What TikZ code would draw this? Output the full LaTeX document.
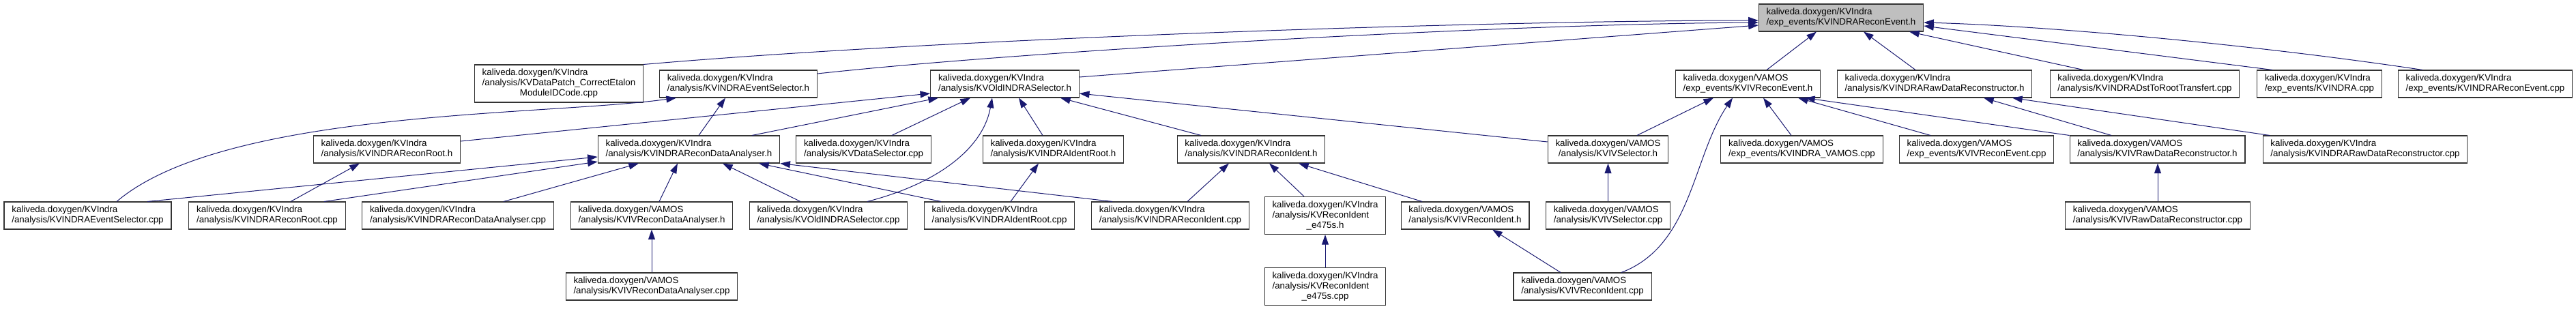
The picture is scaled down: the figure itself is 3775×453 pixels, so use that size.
\documentclass[tikz,border=0pt]{standalone}
\usepackage{fontspec}
\setmainfont{Liberation Sans}
\usetikzlibrary{arrows.meta}
\definecolor{edgeblue}{HTML}{191970}
% two and three line file labels: first lines left, last line centred
\newcommand{\fl}[2]{\begin{tabular}{@{}l@{}}#1\\\multicolumn{1}{@{}c@{}}{#2}\end{tabular}}
\newcommand{\flc}[3]{\begin{tabular}{@{}l@{}}#1\\#2\\\multicolumn{1}{@{}c@{}}{#3}\end{tabular}}
\tikzset{
  file/.style={draw=black!80, line width=0.8pt, fill=white, inner xsep=8.5pt, inner ysep=3.75pt,
    font=\fontsize{10}{11.25}\selectfont},
  rootfile/.style={file, fill=gray!50},
  dep/.style={draw=edgeblue, line width=0.75pt, -{Triangle[length=11pt,width=7.5pt]}}
}
\begin{document}
\begin{tikzpicture}[x=0.75pt,y=-0.75pt]
        \useasboundingbox (0,0) rectangle (3775,453);

        % 被包含的头文件
        \node[rootfile] (root) at (2698,26) {\fl{kaliveda.doxygen/KVIndra}{/exp\_events/KVINDRAReconEvent.h}};

        % 第二层
        \node[file] (patch) at (819,122.5) {\flc{kaliveda.doxygen/KVIndra}{/analysis/KVDataPatch\_CorrectEtalon}{ModuleIDCode.cpp}};
        \node[file] (evsel_h) at (1082,123) {\fl{kaliveda.doxygen/KVIndra}{/analysis/KVINDRAEventSelector.h}};
        \node[file] (oldsel_h) at (1472.5,123) {\fl{kaliveda.doxygen/KVIndra}{/analysis/KVOldINDRASelector.h}};
        \node[file] (ivrecev_h) at (2561.5,123) {\fl{kaliveda.doxygen/VAMOS}{/exp\_events/KVIVReconEvent.h}};
        \node[file] (rawrec_h) at (2835,123) {\fl{kaliveda.doxygen/KVIndra}{/analysis/KVINDRARawDataReconstructor.h}};
        \node[file] (dst_cpp) at (3143,123) {\fl{kaliveda.doxygen/KVIndra}{/analysis/KVINDRADstToRootTransfert.cpp}};
        \node[file] (indra_cpp) at (3399,123) {\fl{kaliveda.doxygen/KVIndra}{/exp\_events/KVINDRA.cpp}};
        \node[file] (recev_cpp) at (3642,123) {\fl{kaliveda.doxygen/KVIndra}{/exp\_events/KVINDRAReconEvent.cpp}};

        % 第三层
        \node[file] (reconroot_h) at (567,219) {\fl{kaliveda.doxygen/KVIndra}{/analysis/KVINDRAReconRoot.h}};
        \node[file] (rda_h) at (1009.5,219) {\fl{kaliveda.doxygen/KVIndra}{/analysis/KVINDRAReconDataAnalyser.h}};
        \node[file] (datasel_cpp) at (1265.5,219) {\fl{kaliveda.doxygen/KVIndra}{/analysis/KVDataSelector.cpp}};
        \node[file] (identroot_h) at (1543.5,219) {\fl{kaliveda.doxygen/KVIndra}{/analysis/KVINDRAIdentRoot.h}};
        \node[file] (reconident_h) at (1833.5,219) {\fl{kaliveda.doxygen/KVIndra}{/analysis/KVINDRAReconIdent.h}};
        \node[file] (ivsel_h) at (2356.5,219) {\fl{kaliveda.doxygen/VAMOS}{/analysis/KVIVSelector.h}};
        \node[file] (vamos_cpp) at (2640.5,219) {\fl{kaliveda.doxygen/VAMOS}{/exp\_events/KVINDRA\_VAMOS.cpp}};
        \node[file] (ivrecev_cpp) at (2896.5,219) {\fl{kaliveda.doxygen/VAMOS}{/exp\_events/KVIVReconEvent.cpp}};
        \node[file] (ivraw_h) at (3161.5,219) {\fl{kaliveda.doxygen/VAMOS}{/analysis/KVIVRawDataReconstructor.h}};
        \node[file] (rawrec_cpp) at (3466,219) {\fl{kaliveda.doxygen/KVIndra}{/analysis/KVINDRARawDataReconstructor.cpp}};

        % 第四层
        \node[file] (evsel_cpp) at (128.5,316) {\fl{kaliveda.doxygen/KVIndra}{/analysis/KVINDRAEventSelector.cpp}};
        \node[file] (reconroot_cpp) at (391.5,316) {\fl{kaliveda.doxygen/KVIndra}{/analysis/KVINDRAReconRoot.cpp}};
        \node[file] (rda_cpp) at (671,316) {\fl{kaliveda.doxygen/KVIndra}{/analysis/KVINDRAReconDataAnalyser.cpp}};
        \node[file] (ivrda_h) at (955,316) {\fl{kaliveda.doxygen/VAMOS}{/analysis/KVIVReconDataAnalyser.h}};
        \node[file] (oldsel_cpp) at (1214,316) {\fl{kaliveda.doxygen/KVIndra}{/analysis/KVOldINDRASelector.cpp}};
        \node[file] (identroot_cpp) at (1464.5,316) {\fl{kaliveda.doxygen/KVIndra}{/analysis/KVINDRAIdentRoot.cpp}};
        \node[file] (reconident_cpp) at (1715,316) {\fl{kaliveda.doxygen/KVIndra}{/analysis/KVINDRAReconIdent.cpp}};
        \node[file] (e475s_h) at (1942,316) {\flc{kaliveda.doxygen/KVIndra}{/analysis/KVReconIdent}{\_e475s.h}};
        \node[file] (ivident_h) at (2147,316) {\fl{kaliveda.doxygen/VAMOS}{/analysis/KVIVReconIdent.h}};
        \node[file] (ivsel_cpp) at (2356.5,316) {\fl{kaliveda.doxygen/VAMOS}{/analysis/KVIVSelector.cpp}};
        \node[file] (ivraw_cpp) at (3162,316) {\fl{kaliveda.doxygen/VAMOS}{/analysis/KVIVRawDataReconstructor.cpp}};

        % 第五层
        \node[file] (ivrda_cpp) at (955,420) {\fl{kaliveda.doxygen/VAMOS}{/analysis/KVIVReconDataAnalyser.cpp}};
        \node[file] (e475s_cpp) at (1942,420) {\flc{kaliveda.doxygen/KVIndra}{/analysis/KVReconIdent}{\_e475s.cpp}};
        \node[file] (ivident_cpp) at (2319,420) {\fl{kaliveda.doxygen/VAMOS}{/analysis/KVIVReconIdent.cpp}};

        % 指向 KVINDRAReconEvent.h
        \draw[dep] (patch.north east) .. controls (1400,55) and (2200,30) .. ([shift={(0,4)}]root.west);
        \draw[dep] ([shift={(0,-15)}]evsel_h.east) .. controls (1500,75) and (2200,35) .. ([shift={(0,7)}]root.west);
        \draw[dep] ([shift={(0,-10)}]oldsel_h.east) -- ([shift={(0,11)}]root.west);
        \draw[dep] ([shift={(27.5,0)}]ivrecev_h.north) -- ([shift={(-36,0)}]root.south);
        \draw[dep] ([shift={(-28,0)}]rawrec_h.north) -- ([shift={(33,0)}]root.south);
        \draw[dep] ([shift={(-90,0)}]dst_cpp.north) -- ([shift={(100,0)}]root.south);
        \draw[dep] ([shift={(-69,0)}]indra_cpp.north) -- ([shift={(0,12)}]root.east);
        \draw[dep] ([shift={(-92,0)}]recev_cpp.north) .. controls (3300,65) and (3000,38) .. ([shift={(0,7)}]root.east);

        % 指向 KVINDRAEventSelector.h
        \draw[dep] ([shift={(42.5,0)}]evsel_cpp.north) .. controls (330,160) and (800,170) .. ([shift={(-91,0)}]evsel_h.south);
        \draw[dep] ([shift={(14.5,0)}]rda_h.north) -- ([shift={(-19,0)}]evsel_h.south);

        % 指向 KVOldINDRASelector.h
        \draw[dep] ([shift={(0,-12)}]reconroot_h.east) -- ([shift={(0,14)}]oldsel_h.west);
        \draw[dep] ([shift={(92.5,0)}]rda_h.north) -- ([shift={(-97.5,0)}]oldsel_h.south);
        \draw[dep] ([shift={(41.5,0)}]datasel_cpp.north) -- ([shift={(-50.5,0)}]oldsel_h.south);
        \draw[dep] ([shift={(57,0)}]oldsel_cpp.north) .. controls (1370,270) and (1440,220) .. ([shift={(-18.5,0)}]oldsel_h.south);
        \draw[dep] ([shift={(-15.5,0)}]identroot_h.north) -- ([shift={(20.5,0)}]oldsel_h.south);
        \draw[dep] ([shift={(-73.5,0)}]reconident_h.north) -- ([shift={(81.5,0)}]oldsel_h.south);
        \draw[dep] ([shift={(0,-11)}]ivsel_h.west) -- ([shift={(0,14)}]oldsel_h.east);

        % 指向 KVINDRAReconDataAnalyser.h
        \draw[dep] ([shift={(87.5,0)}]evsel_cpp.north) -- ([shift={(0,11)}]rda_h.west);
        \draw[dep] ([shift={(83.5,0)}]reconroot_cpp.north) -- ([shift={(0,18)}]rda_h.west);
        \draw[dep] ([shift={(67,0)}]rda_cpp.north) -- ([shift={(-73.5,0)}]rda_h.south);
        \draw[dep] ([shift={(11,0)}]ivrda_h.north) -- ([shift={(-16.5,0)}]rda_h.south);
        \draw[dep] ([shift={(-41,0)}]oldsel_cpp.north) -- ([shift={(49.5,0)}]rda_h.south);
        \draw[dep] ([shift={(-85.5,0)}]identroot_cpp.north) -- ([shift={(102.5,0)}]rda_h.south);
        \draw[dep] ([shift={(-85,0)}]reconident_cpp.north) -- (rda_h.south east);

        % 其余的头文件
        \draw[dep] ([shift={(34.5,0)}]reconroot_cpp.north) -- ([shift={(-40,0)}]reconroot_h.south);
        \draw[dep] (ivrda_cpp.north) -- (ivrda_h.south);
        \draw[dep] ([shift={(16.5,0)}]identroot_cpp.north) -- ([shift={(-21.5,0)}]identroot_h.south);
        \draw[dep] ([shift={(25,0)}]reconident_cpp.north) -- ([shift={(-32.5,0)}]reconident_h.south);
        \draw[dep] ([shift={(-31,0)}]e475s_h.north) -- ([shift={(26.5,0)}]reconident_h.south);
        \draw[dep] ([shift={(-63,0)}]ivident_h.north) -- ([shift={(69.5,0)}]reconident_h.south);
        \draw[dep] (e475s_cpp.north) -- (e475s_h.south);
        \draw[dep] ([shift={(-32,0)}]ivident_cpp.north) -- ([shift={(40,0)}]ivident_h.south);
        \draw[dep] (ivsel_cpp.north) -- (ivsel_h.south);

        % 指向 KVIVReconEvent.h
        \draw[dep] ([shift={(42.5,0)}]ivsel_h.north) -- ([shift={(-50.5,0)}]ivrecev_h.south);
        \draw[dep] ([shift={(57,0)}]ivident_cpp.north) .. controls (2480,360) and (2480,230) .. ([shift={(-22.5,0)}]ivrecev_h.south);
        \draw[dep] ([shift={(-15.5,0)}]vamos_cpp.north) -- ([shift={(22.5,0)}]ivrecev_h.south);
        \draw[dep] ([shift={(-67.5,0)}]ivrecev_cpp.north) -- ([shift={(73.5,0)}]ivrecev_h.south);
        \draw[dep] (ivraw_h.north west) -- ([shift={(83.5,0)}]ivrecev_h.south);

        % 指向 KVINDRARawDataReconstructor.h
        \draw[dep] ([shift={(-67.5,0)}]ivraw_h.north) -- ([shift={(72,0)}]rawrec_h.south);
        \draw[dep] ([shift={(-140,0)}]rawrec_cpp.north) -- ([shift={(114,0)}]rawrec_h.south);
        \draw[dep] (ivraw_cpp.north) -- (ivraw_cpp.north |- ivraw_h.south);
    \end{tikzpicture}
\end{document}
